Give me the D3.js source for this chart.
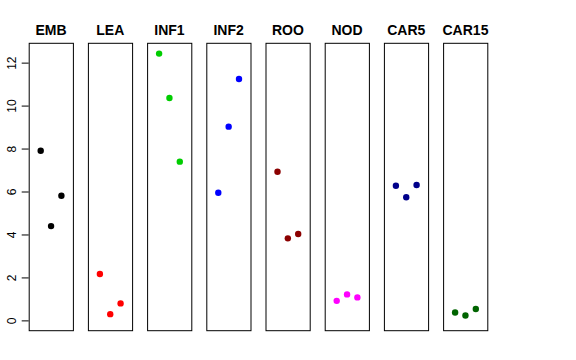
<!DOCTYPE html>
<html>
<head>
<meta charset="utf-8">
<script src="https://cdn.jsdelivr.net/npm/d3@7"></script>
<style>
  body { margin: 0; background: #fff; }
  svg { display: block; font-family: "Liberation Sans", Arial, sans-serif; }
</style>
</head>
<body>
<svg id="chart" width="576" height="360"></svg>
<script>
const categories = ["EMB", "LEA", "INF1", "INF2", "ROO", "NOD", "CAR5", "CAR15"];
const replicates = [1, 2, 3];
const EMB   = [7.90, 4.39, 5.80];
const LEA   = [2.16, 0.29, 0.79];
const INF1  = [12.42, 10.35, 7.39];
const INF2  = [5.94, 9.02, 11.24];
const ROO   = [6.92, 3.82, 4.02];
const NOD   = [0.91, 1.21, 1.07];
const CAR5  = [6.27, 5.73, 6.30];
const CAR15 = [0.37, 0.23, 0.53];
const seriesValues = [EMB, LEA, INF1, INF2, ROO, NOD, CAR5, CAR15];
const colors = ["#000000", "#FF0000", "#00CD00", "#0000FF", "#8B0000", "#FF00FF", "#00008B", "#006400"];
const yTicks = [0, 2, 4, 6, 8, 10, 12];

(function () {
const svg = d3.select("#chart");
const plotTop = 43.3, plotBottom = 330.7;

const panel = d3.scaleBand()
  .domain(categories)
  .range([28.7, 487.8])
  .paddingInner(0.245)
  .paddingOuter(0);

const y = d3.scaleLinear().domain([-0.48, 12.9]).range([plotBottom, plotTop]);
const x = d3.scaleLinear().domain([-0.16, 4.16]).range([0, panel.bandwidth()]);

// left axis
const yAxis = d3.axisLeft(y).tickValues(yTicks).tickSize(7).tickFormat(d3.format("d"));
const ax = svg.append("g").attr("transform", `translate(${panel("EMB")},0)`).call(yAxis);
ax.select(".domain").remove();
ax.selectAll(".tick line").attr("stroke", "#000");
ax.selectAll(".tick text")
  .attr("font-size", 12)
  .attr("fill", "#000")
  .attr("text-anchor", "middle")
  .attr("x", 0)
  .attr("transform", "translate(-17,0) rotate(-90)")
  .attr("dy", "0.35em");

categories.forEach((cat, i) => {
  const g = svg.append("g").attr("transform", `translate(${panel(cat)},0)`);
  g.append("rect")
    .attr("x", 0.5).attr("y", plotTop)
    .attr("width", panel.bandwidth() - 0.5).attr("height", plotBottom - plotTop)
    .attr("fill", "none").attr("stroke", "#000").attr("stroke-width", 1);
  g.append("text")
    .attr("x", panel.bandwidth() / 2).attr("y", 35)
    .attr("text-anchor", "middle")
    .attr("font-weight", "bold").attr("font-size", 14)
    .text(cat);
  g.selectAll("circle")
    .data(seriesValues[i].map((v, j) => ({ r: replicates[j], v })))
    .join("circle")
    .attr("cx", d => x(d.r))
    .attr("cy", d => y(d.v))
    .attr("r", 3.2)
    .attr("fill", colors[i]);
});
})();
</script>
</body>
</html>
